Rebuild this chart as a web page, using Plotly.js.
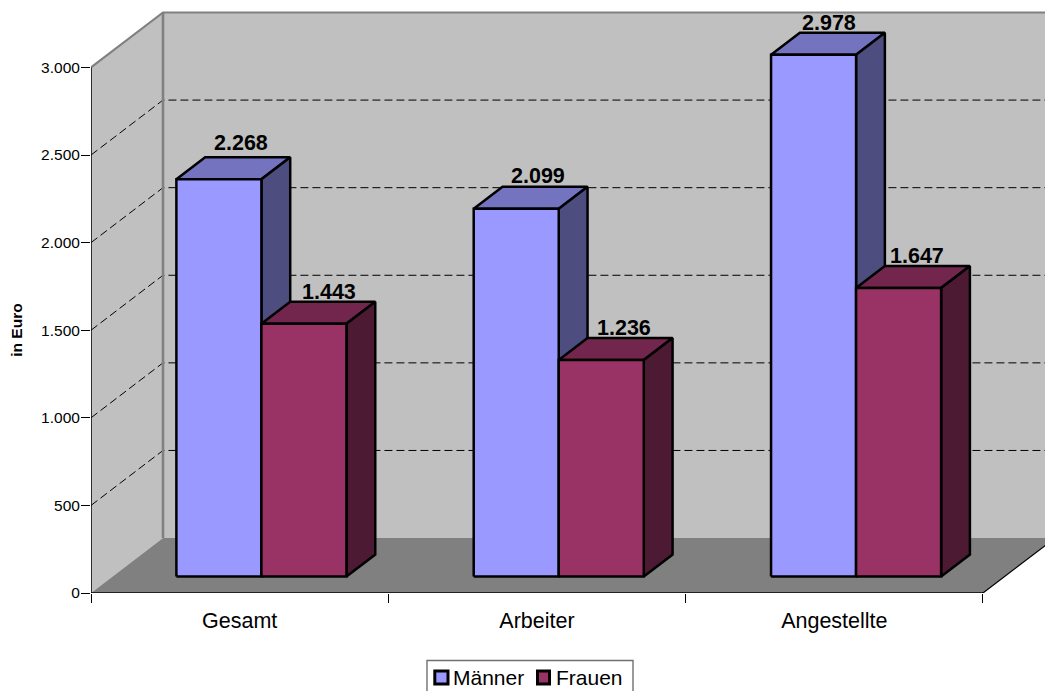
<!DOCTYPE html>
<html><head><meta charset="utf-8">
<script src="https://cdn.plot.ly/plotly-3.0.1.min.js"></script>
<style>html,body{margin:0;padding:0;background:#fff}#c{width:1045px;height:691px}</style>
</head><body><div id="c"></div>
<script>
const categories = ['Gesamt', 'Arbeiter', 'Angestellte'];
const maenner = [2268, 2099, 2978];
const frauen = [1443, 1236, 1647];
const yTicks = [0, 500, 1000, 1500, 2000, 2500, 3000];
const gridValues = [500, 1000, 1500, 2000, 2500];
const labelNudgeX = [[-7, -4], [-7, -6], [-13, -10]];
const labelNudgeY = [[0, 4], [3, 4], [4, 4]];

const W = 1045, H = 691, L = 91, T = 0, B = 97.5;
const pxPerCat = 297.33, pxPerUnit = 0.17533;
const depthX = 72 / pxPerCat, depthY = 55 / pxPerUnit;
const xMax = (W - L) / pxPerCat, yMax = (H - B) / pxPerUnit;
const P = (c, v, d) => [c + d * depthX, v + d * depthY];
const barW = 0.286, gap = 0.2145, dFront = 0.30, dBack = 0.70;

const traces = [];
function poly(points, fill, lineColor, lineWidth, closed = true, dash = 'solid') {
  const pts = closed ? points.concat([points[0]]) : points;
  traces.push({
    type: 'scatter', mode: 'lines', x: pts.map(p => p[0]), y: pts.map(p => p[1]),
    fill: fill ? 'toself' : 'none', fillcolor: fill || undefined,
    line: {color: lineColor, width: lineWidth, dash: dash, simplify: false},
    hoverinfo: 'skip', showlegend: false
  });
}
// walls and floor
poly([P(0,0,0), P(0,3000,0), P(0,3000,1), P(0,0,1)], '#C0C0C0', 'rgba(0,0,0,0)', 0);
poly([P(0,0,1), P(3,0,1), P(3,3000,1), P(0,3000,1)], '#C0C0C0', 'rgba(0,0,0,0)', 0);
poly([P(0,0,0), P(3,0,0), P(3,0,1), P(0,0,1)], '#808080', 'rgba(0,0,0,0)', 0);
// gridlines
gridValues.forEach(v => {
  poly([P(0,v,0), P(0,v,1), P(3,v,1)], null, '#000', 1, false, '8px,4px');
});
// wall edges
poly([P(0,3000,0), P(0,3000,1), P(3,3000,1)], null, '#808080', 2.2, false);
poly([P(0,3000,1), P(0,0,1)], null, '#808080', 2.6, false);
poly([P(3,0,0), P(3,0,1)], null, '#000', 1.2, false);
poly([P(0,3000,0), P(0,0,0), P(3,0,0)], null, '#000', 1.5, false);

function box(c0, c1, v, front, top, side) {
  poly([P(c0,v,dFront), P(c1,v,dFront), P(c1,v,dBack), P(c0,v,dBack)], top, '#000', 2.5);
  poly([P(c1,0,dFront), P(c1,0,dBack), P(c1,v,dBack), P(c1,v,dFront)], side, '#000', 2.5);
  poly([P(c0,0,dFront), P(c1,0,dFront), P(c1,v,dFront), P(c0,v,dFront)], front, '#000', 2.5);
}
const annotations = [];
function valueLabel(c, v, i, j) {
  const p = P(c, v, dBack);
  annotations.push({
    x: p[0], y: p[1], xref: 'x', yref: 'y', text: '<b>' + v.toLocaleString('de-DE') + '</b>',
    showarrow: false, xanchor: 'center', yanchor: 'middle',
    xshift: labelNudgeX[i][j], yshift: 14 - labelNudgeY[i][j],
    font: {family: 'Liberation Sans', size: 21.5, color: '#000'}
  });
}
categories.forEach((name, i) => {
  const s = i + gap;
  box(s, s + barW, maenner[i], '#9999FF', '#7373BF', '#4D4D80');
  box(s + barW, s + 2 * barW, frauen[i], '#993366', '#73264D', '#4D1A33');
  valueLabel(s + barW / 2, maenner[i], i, 0);
  valueLabel(s + 1.5 * barW, frauen[i], i, 1);
});

// legend drawn as a boxed row below the plot (its lower edge runs off the image)
const px = x => (x - L) / (W - L);
const py = y => (H - B - y) / (H - B - T);
const rect = (x0, y0, x1, y1, fill, color, w) => ({
  type: 'rect', xref: 'paper', yref: 'paper', x0: px(x0), x1: px(x1), y0: py(y0), y1: py(y1),
  fillcolor: fill, line: {color: color, width: w}, layer: 'above'
});
const shapes = [
  rect(427, 661, 633, 696, 'rgba(255,255,255,0)', '#707070', 1.4),
  rect(434.8, 671.5, 448, 684.5, '#9999FF', '#000', 3),
  rect(537.5, 671.5, 549.5, 684.5, '#993366', '#000', 3)
];
[['Männer', 453], ['Frauen', 556]].forEach(([t, x]) => annotations.push({
  x: px(x), y: py(678), xref: 'paper', yref: 'paper', text: t, showarrow: false,
  xanchor: 'left', yanchor: 'middle', borderpad: 0, borderwidth: 0,
  font: {family: 'Liberation Sans', size: 21, color: '#000'}
}));
annotations.push({
  x: px(17), y: py(331), xref: 'paper', yref: 'paper', text: '<b>in Euro</b>', textangle: -90,
  showarrow: false, xanchor: 'center', yanchor: 'middle',
  font: {family: 'Liberation Sans', size: 15.5, color: '#000'}
});

const layout = {
  width: W, height: H, margin: {l: L, r: 0, t: T, b: B, pad: 0},
  paper_bgcolor: '#fff', plot_bgcolor: '#fff', showlegend: false, separators: ',.',
  font: {family: 'Liberation Sans', color: '#000'},
  xaxis: {
    range: [0, xMax], fixedrange: true, showgrid: false, zeroline: false, showline: false,
    tickmode: 'array', tickvals: categories.map((_, i) => i + 0.5), ticktext: categories,
    ticks: '', tickfont: {size: 21.5, family: 'Liberation Sans'}, ticklabelstandoff: 12,
    minor: {tickmode: 'array', tickvals: [0, 1, 2, 3], ticks: 'outside', ticklen: 9, tickwidth: 1, tickcolor: '#000', showgrid: false}
  },
  yaxis: {
    range: [0, yMax], fixedrange: true, showgrid: false, zeroline: false, showline: false,
    tickmode: 'array', tickvals: yTicks, tickformat: ',d', ticks: 'outside', ticklen: 9, tickwidth: 1,
    tickcolor: '#000', tickfont: {size: 15.5, family: 'Liberation Sans'}, ticklabelstandoff: -2
  },
  shapes: shapes, annotations: annotations
};
Plotly.newPlot('c', traces, layout, {displayModeBar: false, staticPlot: true});
</script></body></html>
